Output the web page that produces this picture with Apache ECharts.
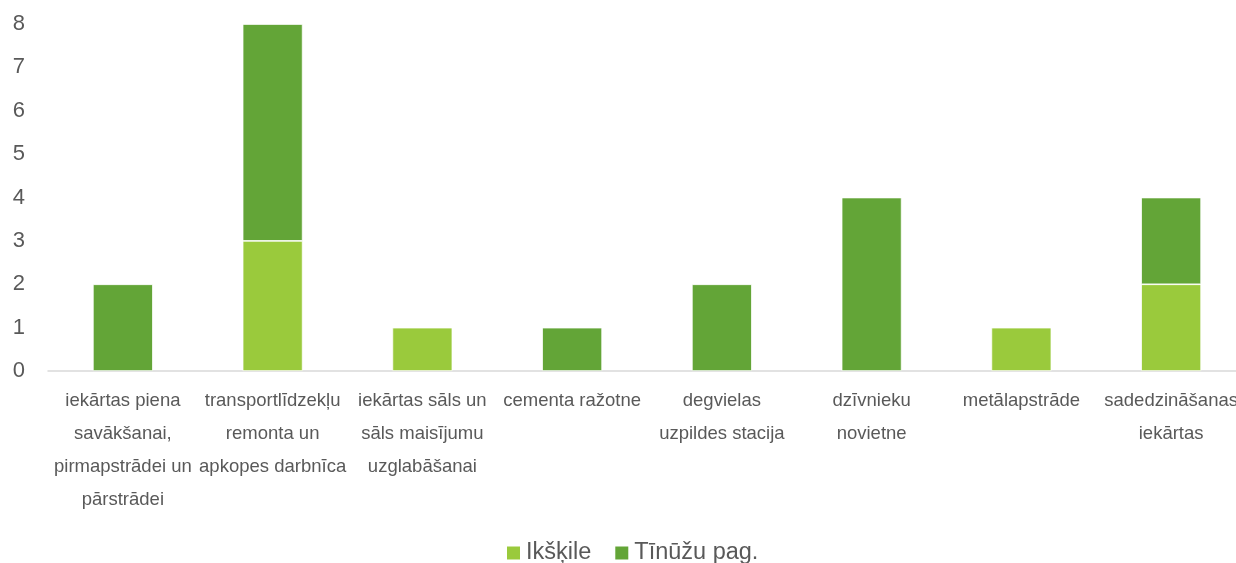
<!DOCTYPE html>
<html><head><meta charset="utf-8">
<script src="https://cdn.jsdelivr.net/npm/echarts@6/dist/echarts.min.js"></script>
<style>html,body{margin:0;padding:0;background:#fff}#c{width:1236px;height:563px}</style>
</head><body><div id="c"></div>
<script>
var categories = [
  'iekārtas piena\nsavākšanai,\npirmapstrādei un\npārstrādei',
  'transportlīdzekļu\nremonta un\napkopes darbnīca',
  'iekārtas sāls un\nsāls maisījumu\nuzglabāšanai',
  'cementa ražotne',
  'degvielas\nuzpildes stacija',
  'dzīvnieku\nnovietne',
  'metālapstrāde',
  'sadedzināšanas\niekārtas'
];
var seriesNames = ['Ikšķile', 'Tīnūžu pag.'];
var ikskile = [0, 3, 1, 0, 0, 0, 1, 2];
var tinuzu = [2, 5, 0, 1, 2, 4, 0, 2];
var yTicks = [0, 1, 2, 3, 4, 5, 6, 7, 8];

var chart = echarts.init(document.getElementById('c'), null, {renderer: 'canvas'});
function clean(arr){ return arr.map(function(v){ return v === 0 ? null : v; }); }
chart.setOption({
  animation: false,
  textStyle: {fontFamily: 'Liberation Sans, Arial, sans-serif'},
  grid: {left: 48, width: 1198, top: 24, height: 347, containLabel: false, outerBoundsMode: 'none'},
  legend: {
    top: 536, left: 500,
    itemWidth: 15, itemHeight: 15, itemGap: 22,
    icon: 'rect',
    textStyle: {fontSize: 23.5, color: '#595959', fontFamily: 'Liberation Sans, Arial, sans-serif'},
    data: seriesNames
  },
  xAxis: {
    type: 'category',
    data: categories,
    axisLine: {lineStyle: {color: '#d9d9d9', width: 1.5}},
    axisTick: {show: false},
    axisLabel: {interval: 0, fontSize: 18.5, lineHeight: 33, color: '#595959', margin: 13}
  },
  yAxis: {
    type: 'value', min: 0, max: 8, interval: 1,
    axisLine: {show: false}, axisTick: {show: false},
    splitLine: {show: false},
    axisLabel: {fontSize: 22, color: '#595959', margin: 23,
      formatter: function(v){ return yTicks.indexOf(v) >= 0 ? String(v) : ''; }}
  },
  series: [
    {name: seriesNames[0], type: 'bar', stack: 'a', data: clean(ikskile), barWidth: 60,
     itemStyle: {color: '#9ACA3C', borderColor: '#ffffff', borderWidth: 0.75}},
    {name: seriesNames[1], type: 'bar', stack: 'a', data: clean(tinuzu), barWidth: 60,
     itemStyle: {color: '#63A537', borderColor: '#ffffff', borderWidth: 0.75}}
  ]
});
</script></body></html>
